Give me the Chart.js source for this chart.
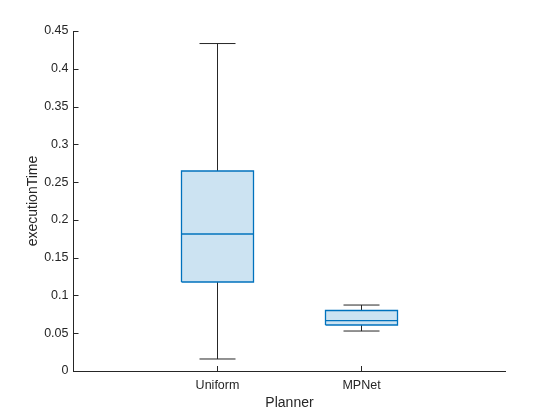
<!DOCTYPE html>
<html>
<head>
<meta charset="utf-8">
<script src="https://cdn.jsdelivr.net/npm/chart.js@4/dist/chart.umd.min.js"></script>
<style>
  html, body { margin: 0; padding: 0; background: #fff; }
  #wrap { width: 560px; height: 420px; }
</style>
</head>
<body>
<div id="wrap"><canvas id="chartdiv" width="560" height="420"></canvas></div>
<script>
var categories = ['Uniform', 'MPNet'];
var positions = [1, 2];
var whiskerLow = [0.0159, 0.0529];
var q1 = [0.1178, 0.0609];
var medians = [0.1813, 0.0668];
var q3 = [0.2647, 0.0801];
var whiskerHigh = [0.4334, 0.0873];
var yTicks = [0, 0.05, 0.1, 0.15, 0.2, 0.25, 0.3, 0.35, 0.4, 0.45];

var boxHalf = 0.25, capHalf = 0.125;
var edgeColor = '#0072BD';
var fillColor = 'rgba(0,114,189,0.2)';
var inkColor = '#262626';

function segment(points, color, width) {
    return { data: points, borderColor: color, borderWidth: width, fill: false, pointRadius: 0 };
}

var datasets = [];
for (var i = 0; i < categories.length; i++) {
    var x = positions[i];
    // box outline
    datasets.push({
        data: [
            {x: x - boxHalf, y: q1[i]}, {x: x + boxHalf, y: q1[i]},
            {x: x + boxHalf, y: q3[i]}, {x: x - boxHalf, y: q3[i]},
            {x: x - boxHalf, y: q1[i]}
        ],
        borderColor: edgeColor, backgroundColor: fillColor,
        borderWidth: 1.3, fill: 'shape', pointRadius: 0, tension: 0
    });
    // median
    datasets.push(segment([{x: x - boxHalf, y: medians[i]}, {x: x + boxHalf, y: medians[i]}], edgeColor, 1.3));
    // whiskers + caps
    datasets.push(segment([{x: x, y: q3[i]}, {x: x, y: whiskerHigh[i]}], inkColor, 1));
    datasets.push(segment([{x: x - capHalf, y: whiskerHigh[i]}, {x: x + capHalf, y: whiskerHigh[i]}], inkColor, 1));
    datasets.push(segment([{x: x, y: q1[i]}, {x: x, y: whiskerLow[i]}], inkColor, 1));
    datasets.push(segment([{x: x - capHalf, y: whiskerLow[i]}, {x: x + capHalf, y: whiskerLow[i]}], inkColor, 1));
}

// MATLAB-style inward tick marks
var inwardTicks = {
    id: 'inwardTicks',
    afterDraw: function(chart) {
        var ctx = chart.ctx, xs = chart.scales.x, ys = chart.scales.y;
        ctx.save();
        ctx.strokeStyle = inkColor;
        ctx.lineWidth = 1;
        ctx.beginPath();
        ys.ticks.forEach(function(t, k) {
            var py = Math.round(ys.getPixelForTick(k)) + 0.5;
            ctx.moveTo(xs.left, py); ctx.lineTo(xs.left + 5, py);
        });
        xs.ticks.forEach(function(t, k) {
            var px = Math.floor(xs.getPixelForTick(k)) + 0.5;
            ctx.moveTo(px, ys.bottom); ctx.lineTo(px, ys.bottom - 5);
        });
        ctx.stroke();
        ctx.restore();
    }
};

Chart.defaults.font.family = "'Liberation Sans', Arial, sans-serif";
Chart.defaults.color = inkColor;

var ctx1 = document.getElementById('chartdiv');
var boxChart = new Chart(ctx1, {
    type: 'line',
    data: { datasets: datasets },
    plugins: [inwardTicks],
    options: {
        responsive: false,
        animation: false,
        layout: { padding: { left: 20.5, top: 31, right: 54.5, bottom: 0 } },
        plugins: { legend: { display: false }, tooltip: { enabled: false } },
        scales: {
            x: {
                type: 'linear', min: 0, max: 3,
                grid: { display: false, drawTicks: false },
                border: { display: true, color: inkColor, width: 1 },
                afterBuildTicks: function(s) { s.ticks = positions.map(function(p) { return {value: p}; }); },
                afterFit: function(s) { s.height = 49; },
                ticks: {
                    padding: 7, font: { size: 12.5 }, color: inkColor, maxRotation: 0,
                    callback: function(v) { return categories[positions.indexOf(v)]; }
                },
                title: { display: true, text: 'Planner', font: { size: 14 }, color: inkColor, padding: { top: 0, bottom: 8 } }
            },
            y: {
                min: 0, max: 0.45,
                grid: { display: false, drawTicks: false },
                border: { display: true, color: inkColor, width: 1 },
                afterBuildTicks: function(s) { s.ticks = yTicks.map(function(v) { return {value: v}; }); },
                afterFit: function(s) { s.width = 53; },
                ticks: {
                    padding: 5, font: { size: 12.5 }, color: inkColor,
                    callback: function(v) { return String(parseFloat(v.toFixed(2))); }
                },
                title: { display: true, text: 'executionTime', font: { size: 14 }, color: inkColor, padding: { top: 4, bottom: 0 } }
            }
        }
    }
});
</script>
</body>
</html>
